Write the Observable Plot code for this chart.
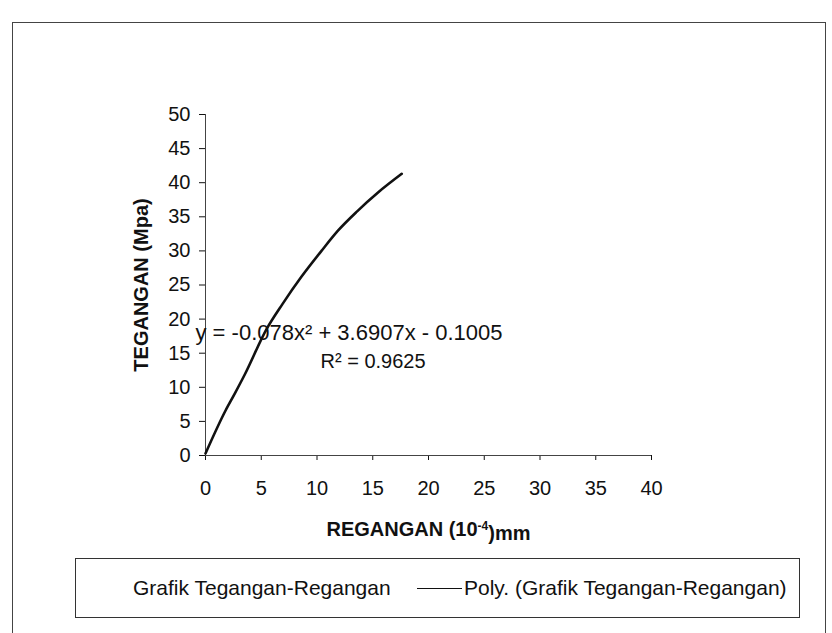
<!DOCTYPE html>
<html>
<head>
<meta charset="utf-8">
<script src="https://cdn.jsdelivr.net/npm/d3@7"></script>
<script src="https://cdn.jsdelivr.net/npm/@observablehq/plot@0.6"></script>
<style>
  html, body { margin: 0; padding: 0; background: #fff; }
  body { width: 832px; height: 633px; position: relative; overflow: hidden;
         font-family: "Liberation Sans", Arial, sans-serif; color: #111; }
  #frame { position: absolute; left: 12px; top: 22px; width: 814px; height: 640px;
           border: 1px solid #444; box-sizing: border-box; }
  #chart { position: absolute; left: 0; top: 0; }
  #legend { position: absolute; left: 75px; top: 558px; width: 725px; height: 60px;
            border: 1px solid #333; box-sizing: border-box; background: #fff; }
  .lg-text { position: absolute; top: 50%; transform: translateY(-50%); font-size: 21px;
             white-space: nowrap; color: #111; }
  .lg-line { position: absolute; top: 50%; height: 0; border-top: 1.6px solid #111; }
</style>
</head>
<body>
<div id="frame"></div>
<div id="chart"></div>
<div id="legend">
  <span class="lg-text" style="left:57px">Grafik Tegangan-Regangan</span>
  <span class="lg-line" style="left:341px;width:45px"></span>
  <span class="lg-text" style="left:388px">Poly. (Grafik Tegangan-Regangan)</span>
</div>
<script>
// Strain (REGANGAN, 10^-4 mm) and stress (TEGANGAN, MPa)
const strain = [0, 1.8, 2.6, 3.5, 5.5, 6.9, 8.6, 10.4, 11.9, 13.6, 15.5, 17.6];
const stress = [0.3, 6.6, 9.0, 11.8, 18.6, 22.2, 26.2, 30.0, 33.0, 35.8, 38.6, 41.3];
const xTicks = [0, 5, 10, 15, 20, 25, 30, 35, 40];
const yTicks = [0, 5, 10, 15, 20, 25, 30, 35, 40, 45, 50];
const xTitle = "REGANGAN (10⁻⁴)mm";
const yTitle = "TEGANGAN (Mpa)";
const equation = "y = -0.078x² + 3.6907x - 0.1005";
const rSquared = "R² = 0.9625";

const data = strain.map((x, i) => ({x, y: stress[i]}));

const chart = Plot.plot({
  width: 832,
  height: 520,
  marginLeft: 205,
  marginRight: 181,
  marginTop: 114,
  marginBottom: 65,
  style: {fontFamily: "'Liberation Sans', Arial, sans-serif", fontSize: "20px", color: "#111", background: "transparent", overflow: "visible"},
  x: {domain: [0, 40], ticks: xTicks, tickSize: 5, tickPadding: 20, label: null},
  y: {domain: [0, 50], ticks: yTicks, tickSize: 6, tickPadding: 9, label: null},
  marks: [
    Plot.ruleY([0], {stroke: "#444", strokeWidth: 1}),
    Plot.ruleX([0], {stroke: "#444", strokeWidth: 1}),
    Plot.line(data, {x: "x", y: "y", stroke: "#111", strokeWidth: 2.6, curve: "monotone-x"}),
    Plot.text([yTitle], {frameAnchor: "left", textAnchor: "middle", dx: -64, rotate: -90, fontWeight: "bold", fontSize: 20, fill: "#111"}),
    Plot.text([xTitle], {frameAnchor: "bottom", textAnchor: "middle", dy: 80, fontWeight: "bold", fontSize: 20, fill: "#111"}),
    Plot.text([equation], {frameAnchor: "top-left", dx: -10, dy: 210, textAnchor: "start", fontSize: 22, fill: "#111"}),
    Plot.text([rSquared], {frameAnchor: "top-left", dx: 115, dy: 239, textAnchor: "start", fontSize: 20, fill: "#111"})
  ]
});
document.getElementById("chart").appendChild(chart);

// render the exponent of the x-axis title as a real superscript
d3.select(chart).selectAll("text").filter(function() { return this.textContent === xTitle; })
  .each(function() {
    const t = d3.select(this);
    t.text(null);
    t.append("tspan").text("REGANGAN (10");
    t.append("tspan").attr("dy", "-0.5em").attr("font-size", "12px").text("-4");
    t.append("tspan").attr("dy", "0.5em").text(")mm");
  });
</script>
</body>
</html>
